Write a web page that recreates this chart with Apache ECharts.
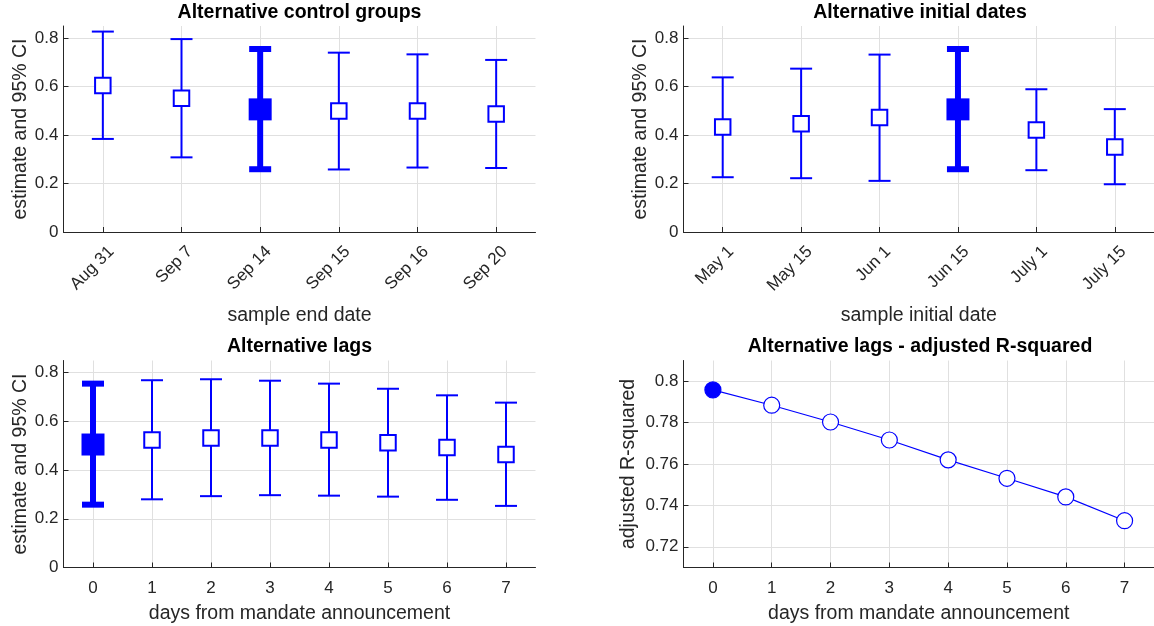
<!DOCTYPE html>
<html>
<head>
<meta charset="utf-8">
<script src="https://cdn.jsdelivr.net/npm/echarts@6/dist/echarts.min.js"></script>
<style>
  html, body { margin: 0; padding: 0; background: #fff; }
  #chart { width: 1154px; height: 626px; }
</style>
</head>
<body>
<div id="chart"></div>
<script>
// Alternative control groups: sample end dates
const endDates = ['Aug 31', 'Sep 7', 'Sep 14', 'Sep 15', 'Sep 16', 'Sep 20'];
const endEst  = [0.605, 0.552, 0.506, 0.499, 0.499, 0.487];
const endLow  = [0.384, 0.308, 0.259, 0.258, 0.266, 0.264];
const endHigh = [0.827, 0.796, 0.755, 0.740, 0.733, 0.710];
const endBaseline = 2;

// Alternative initial dates
const initDates = ['May 1', 'May 15', 'Jun 1', 'Jun 15', 'July 1', 'July 15'];
const initEst  = [0.433, 0.447, 0.472, 0.506, 0.421, 0.351];
const initLow  = [0.226, 0.222, 0.211, 0.259, 0.255, 0.197];
const initHigh = [0.638, 0.674, 0.732, 0.755, 0.589, 0.507];
const initBaseline = 3;

// Alternative lags (days from mandate announcement)
const lagDays = ['0', '1', '2', '3', '4', '5', '6', '7'];
const lagEst  = [0.505, 0.524, 0.532, 0.532, 0.524, 0.512, 0.493, 0.464];
const lagLow  = [0.258, 0.280, 0.293, 0.297, 0.295, 0.291, 0.278, 0.253];
const lagHigh = [0.755, 0.769, 0.773, 0.767, 0.755, 0.734, 0.707, 0.677];
const lagBaseline = 0;

// Adjusted R-squared by lag
const lagR2 = [0.7958, 0.7884, 0.7803, 0.7716, 0.7620, 0.7531, 0.7441, 0.7326];

const BLUE = '#0000ff';
const INK = '#262626';
const GRID_LINE = '#e0e0e0';
const FONT = '"Liberation Sans", Arial, Helvetica, sans-serif';
const TICK_SIZE = 17;
const LABEL_SIZE = 19.5;

const chart = echarts.init(document.getElementById('chart'), null, { renderer: 'canvas' });

// Estimate with 95% CI: stem, caps and a square marker; the baseline spec is drawn heavy and filled.
function ciSeries(idx, est, low, high, baseline) {
  return {
    type: 'custom',
    xAxisIndex: idx,
    yAxisIndex: idx,
    clip: false,
    data: est.map((v, i) => [i, v, low[i], high[i]]),
    encode: { x: 0, y: [1, 2, 3] },
    renderItem(params, api) {
      const i = api.value(0);
      const heavy = i === baseline;
      const top = api.coord([i, api.value(3)]);
      const bot = api.coord([i, api.value(2)]);
      const mid = api.coord([i, api.value(1)]);
      const lw = heavy ? 6 : 2;
      const half = 11;
      const st = { stroke: BLUE, lineWidth: lw, fill: null, lineCap: 'butt' };
      const children = [
        { type: 'line', shape: { x1: top[0], y1: top[1], x2: bot[0], y2: bot[1] }, style: st },
        { type: 'line', shape: { x1: top[0] - half, y1: top[1], x2: top[0] + half, y2: top[1] }, style: st },
        { type: 'line', shape: { x1: bot[0] - half, y1: bot[1], x2: bot[0] + half, y2: bot[1] }, style: st }
      ];
      if (heavy) {
        children.push({ type: 'rect', shape: { x: mid[0] - 11.5, y: mid[1] - 11, width: 23, height: 22 },
          style: { fill: BLUE, stroke: null } });
      } else {
        children.push({ type: 'rect', shape: { x: mid[0] - 7.75, y: mid[1] - 7.75, width: 15.5, height: 15.5 },
          style: { fill: '#ffffff', stroke: BLUE, lineWidth: 2 } });
      }
      return { type: 'group', children };
    }
  };
}

function catAxis(idx, cats, name, nameGap, rotated) {
  return {
    type: 'category',
    gridIndex: idx,
    data: cats,
    boundaryGap: true,
    name: name,
    nameLocation: 'middle',
    nameGap: nameGap,
    nameTextStyle: { color: INK, fontFamily: FONT, fontSize: LABEL_SIZE },
    axisLine: { show: true, lineStyle: { color: INK, width: 1 } },
    axisTick: { show: true, inside: true, alignWithLabel: true, length: 5, lineStyle: { color: INK } },
    splitLine: { show: true, alignWithLabel: true, lineStyle: { color: GRID_LINE, width: 1 } },
    axisLabel: rotated
      ? { interval: 0, rotate: 45, margin: 8.5, verticalAlign: 'top', lineHeight: 24,
          color: INK, fontFamily: FONT, fontSize: TICK_SIZE }
      : { interval: 0, margin: 12, color: INK, fontFamily: FONT, fontSize: TICK_SIZE }
  };
}

function valAxis(idx, name, nameGap, range) {
  const ax = {
    type: 'value',
    gridIndex: idx,
    name: name,
    nameLocation: 'middle',
    nameGap: nameGap,
    nameTextStyle: { color: INK, fontFamily: FONT, fontSize: LABEL_SIZE },
    axisLine: { show: true, lineStyle: { color: INK, width: 1 } },
    axisTick: { show: true, inside: true, length: 5, lineStyle: { color: INK } },
    splitLine: { show: true, showMinLine: false, showMaxLine: false, lineStyle: { color: GRID_LINE, width: 1 } },
    axisLabel: { showMaxLabel: false, margin: 5, color: INK, fontFamily: FONT, fontSize: TICK_SIZE }
  };
  return Object.assign(ax, range);
}

function panelTitle(text, cx, top) {
  return {
    text: text,
    left: cx,
    top: top,
    padding: 0,
    textAlign: 'center',
    textStyle: { color: '#000', fontFamily: FONT, fontSize: LABEL_SIZE, fontWeight: 'bold' }
  };
}

const option = {
  animation: false,
  backgroundColor: '#ffffff',
  title: [
    panelTitle('Alternative control groups', 299.5, 3),
    panelTitle('Alternative initial dates', 920, 3),
    panelTitle('Alternative lags', 299.5, 337),
    panelTitle('Alternative lags - adjusted R-squared', 920, 337)
  ],
  grid: [
    { left: 63.5, top: 26, width: 472, height: 206 },
    { left: 683.5, top: 26, width: 473.5, height: 206 },
    { left: 63.5, top: 360.5, width: 472, height: 207 },
    { left: 683.5, top: 360.5, width: 473.5, height: 207 }
  ],
  xAxis: [
    catAxis(0, endDates, 'sample end date', 74, true),
    catAxis(1, initDates, 'sample initial date', 74, true),
    catAxis(2, lagDays, 'days from mandate announcement', 36, false),
    catAxis(3, lagDays, 'days from mandate announcement', 36, false)
  ],
  yAxis: [
    valAxis(0, 'estimate and 95% CI', 33, { min: 0, max: 0.85, interval: 0.2 }),
    valAxis(1, 'estimate and 95% CI', 33, { min: 0, max: 0.85, interval: 0.2 }),
    valAxis(2, 'estimate and 95% CI', 33, { min: 0, max: 0.85, interval: 0.2 }),
    Object.assign(valAxis(3, 'adjusted R-squared', 45, { min: 0.71, max: 0.81, splitNumber: 5 }),
      { axisLabel: { showMinLabel: false, showMaxLabel: false, margin: 5, color: INK, fontFamily: FONT, fontSize: TICK_SIZE } })
  ],
  series: [
    ciSeries(0, endEst, endLow, endHigh, endBaseline),
    ciSeries(1, initEst, initLow, initHigh, initBaseline),
    ciSeries(2, lagEst, lagLow, lagHigh, lagBaseline),
    {
      type: 'line',
      xAxisIndex: 3,
      yAxisIndex: 3,
      data: lagR2.map((v, i) => i === lagBaseline
        ? { value: v, itemStyle: { color: BLUE, borderColor: BLUE } }
        : v),
      symbol: 'circle',
      symbolSize: 16,
      showAllSymbol: true,
      lineStyle: { color: BLUE, width: 1.2 },
      itemStyle: { color: '#ffffff', borderColor: BLUE, borderWidth: 1.2 },
      emphasis: { disabled: true }
    }
  ]
};

chart.setOption(option);
</script>
</body>
</html>
